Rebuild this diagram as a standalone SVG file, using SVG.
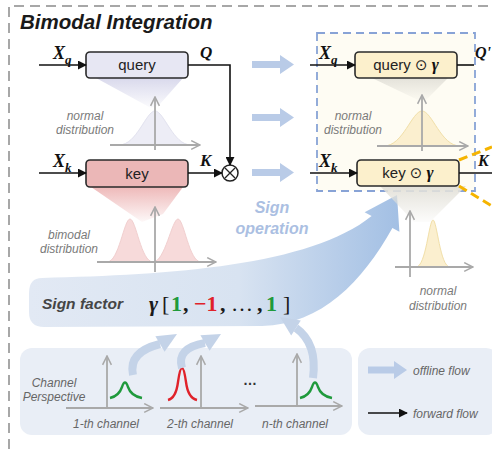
<svg xmlns="http://www.w3.org/2000/svg" width="492" height="449" viewBox="0 0 492 449">
  <defs>
    <style>
      .lbl { font-family: "Liberation Sans", Arial, sans-serif; font-style: italic; fill: #7a7a7a; font-size: 12px; }
      .box-txt { font-family: "Liberation Sans", Arial, sans-serif; font-size: 15px; fill: #222; text-anchor: middle; }
      .math { font-family: "Liberation Serif", "Times New Roman", serif; font-weight: bold; font-style: italic; fill: #111; }
      .sym { font-family: "DejaVu Sans", sans-serif; font-style: normal; font-weight: normal; }
      .fwd { stroke: #111; stroke-width: 1.6; fill: none; }
      .axis { stroke: #a9a9a9; stroke-width: 1.8; fill: none; marker-end: url(#open); }
      .offline { fill: #b9cbe7; }
      .panel { fill: #e9eef6; }
      .chan { font-family: "Liberation Sans", Arial, sans-serif; font-style: italic; fill: #666; font-size: 12px; }
    </style>
    <marker id="tri" viewBox="0 0 10 10" refX="9" refY="5" markerWidth="9" markerHeight="9" markerUnits="userSpaceOnUse" orient="auto">
      <path d="M0,0 L10,5 L0,10 z" fill="#111"/>
    </marker>
    <marker id="open" viewBox="0 0 10 10" refX="9" refY="5" markerWidth="11" markerHeight="11" markerUnits="userSpaceOnUse" orient="auto">
      <path d="M1,1 L9,5 L1,9" fill="none" stroke="#a9a9a9" stroke-width="1.4"/>
    </marker>
    <linearGradient id="coneQ" x1="0" y1="0" x2="0" y2="1">
      <stop offset="0" stop-color="#d9d9ec"/>
      <stop offset="1" stop-color="#d9d9ec" stop-opacity="0.1"/>
    </linearGradient>
    <linearGradient id="coneK" x1="0" y1="0" x2="0" y2="1">
      <stop offset="0" stop-color="#eeb9b9"/>
      <stop offset="1" stop-color="#eeb9b9" stop-opacity="0.1"/>
    </linearGradient>
    <linearGradient id="coneY" x1="0" y1="0" x2="0" y2="1">
      <stop offset="0" stop-color="#e4e2da"/>
      <stop offset="1" stop-color="#e4e2da" stop-opacity="0.1"/>
    </linearGradient>
    <linearGradient id="swoosh" x1="30" y1="0" x2="410" y2="0" gradientUnits="userSpaceOnUse">
      <stop offset="0" stop-color="#e2e9f4"/>
      <stop offset="0.55" stop-color="#d8e3f1"/>
      <stop offset="1" stop-color="#9fbde3"/>
    </linearGradient>
  </defs>

  <!-- outer dashed frame -->
  <path d="M9,449 L9,6 L492,6" fill="none" stroke="#8a8a8a" stroke-width="1.5" stroke-dasharray="10 6"/>

  <text x="20" y="29" font-family="Liberation Sans, Arial, sans-serif" font-weight="bold" font-style="italic" font-size="20.5" fill="#1a1a1a">Bimodal Integration</text>

  <!-- sign factor swoosh -->
  <g id="sign-swoosh">
    <path d="M42,278 C170,275 310,266 371.6,216.1 L364.6,212.2 L397,195 L399.4,231.8 L392.4,227.9 C362,282 322,324 262,326 L44,327 Q29,327 29,312 L29,293 Q29,278 42,278 Z" fill="url(#swoosh)"/>
  </g>

  <!-- right group (sign-operated projections) -->
  <g id="signed-group">
    <rect x="317" y="33" width="158" height="158" fill="#fefcf3" stroke="#88a3d6" stroke-width="1.8" stroke-dasharray="8 5"/>
  </g>

  <!-- distributions -->
  <g id="dist-query">
    <polygon points="96,78 183,78 160,104 151,108" fill="url(#coneQ)"/>
    <path d="M119,145 C137,145 146,111 155,111 C164,111 173,145 191,145 Z" fill="#ededf6" stroke="#e2e2ef"/>
    <line class="axis" x1="110" y1="145" x2="200" y2="145"/>
    <line class="axis" x1="155" y1="150" x2="155" y2="97"/>
    <text class="lbl" x="85" y="120" text-anchor="middle">normal</text>
    <text class="lbl" x="85" y="134" text-anchor="middle">distribution</text>
  </g>

  <g id="dist-key">
    <polygon points="91,187 183,187 163,214 142,222" fill="url(#coneK)"/>
    <path d="M107,262 C119,262 124,219 130,219 C136,219 141,262 153,262 C165,262 172,219 178,219 C184,219 189,262 201,262 Z" fill="#f7dada" stroke="#f1cfcf"/>
    <line class="axis" x1="97" y1="262" x2="216" y2="262"/>
    <line class="axis" x1="155" y1="272" x2="155" y2="207"/>
    <text class="lbl" x="69" y="239" text-anchor="middle">bimodal</text>
    <text class="lbl" x="69" y="253" text-anchor="middle">distribution</text>
  </g>

  <g id="dist-query-signed">
    <polygon points="372,78 448,78 426,100 418,100" fill="url(#coneY)"/>
    <path d="M384,146 C403,146 412,111 422,111 C432,111 441,146 460,146 Z" fill="#fbefcf" stroke="#f1dfa8"/>
    <line class="axis" x1="377" y1="146" x2="468" y2="146"/>
    <line class="axis" x1="422" y1="151" x2="422" y2="95"/>
    <text class="lbl" x="353" y="120" text-anchor="middle">normal</text>
    <text class="lbl" x="353" y="134" text-anchor="middle">distribution</text>
  </g>

  <g id="dist-key-signed">
    <polygon points="380,186 466,186 430,222 414,222" fill="url(#coneY)"/>
    <path d="M416,267 C426,267 429,220 433,220 C437,220 440,267 450,267 Z" fill="#fbefcf" stroke="#f1dfa8"/>
    <line class="axis" x1="395" y1="267" x2="473" y2="267"/>
    <line class="axis" x1="410" y1="277" x2="410" y2="211"/>
    <text class="lbl" x="438" y="295" text-anchor="middle">normal</text>
    <text class="lbl" x="438" y="310" text-anchor="middle">distribution</text>
  </g>

  <!-- offline flow arrows between the two stages -->
  <g id="offline-arrows">
    <path class="offline" d="M252,61 L280,61 L280,55 L294,64.5 L280,74 L280,68 L252,68 Z"/>
    <path class="offline" d="M252,114 L280,114 L280,108 L294,117.5 L280,127 L280,121 L252,121 Z"/>
    <path class="offline" d="M252,169 L280,169 L280,163 L294,172.5 L280,182 L280,176 L252,176 Z"/>
  </g>

  <text x="272" y="213" text-anchor="middle" font-family="Liberation Sans, Arial, sans-serif" font-weight="bold" font-style="italic" font-size="16" fill="#abbfe2">Sign</text>
  <text x="272" y="234" text-anchor="middle" font-family="Liberation Sans, Arial, sans-serif" font-weight="bold" font-style="italic" font-size="16" fill="#abbfe2">operation</text>

  <!-- nodes -->
  <g id="node-query">
    <rect x="86" y="52" width="102" height="26" rx="4" fill="#e7e7f3" stroke="#2a2a2a" stroke-width="1.6"/>
    <text class="box-txt" x="137" y="70">query</text>
  </g>
  <g id="node-key">
    <rect x="86" y="160" width="102" height="27" rx="4" fill="#ebb7b7" stroke="#2a2a2a" stroke-width="1.6"/>
    <text class="box-txt" x="137" y="179">key</text>
  </g>
  <g id="node-mul">
    <circle cx="230" cy="173" r="8" fill="#fff" stroke="#222" stroke-width="1.5"/>
    <path d="M225,168 L235,178 M235,168 L225,178" stroke="#222" stroke-width="1.3"/>
  </g>
  <g id="node-query-signed">
    <rect x="355" y="52" width="102" height="26" rx="4" fill="#fcf0cc" stroke="#2a2a2a" stroke-width="1.6"/>
    <text class="box-txt" x="406" y="70">query <tspan class="sym">⊙</tspan> <tspan class="math" font-size="17">γ</tspan></text>
  </g>
  <g id="node-key-signed">
    <rect x="357" y="160" width="102" height="26" rx="4" fill="#fcf0cc" stroke="#2a2a2a" stroke-width="1.6"/>
    <text class="box-txt" x="408" y="178">key <tspan class="sym">⊙</tspan> <tspan class="math" font-size="17">γ</tspan></text>
  </g>

  <!-- forward connectors -->
  <g id="connectors">
    <line class="fwd" x1="39" y1="65" x2="86" y2="65" marker-end="url(#tri)"/>
    <line class="fwd" x1="39" y1="173" x2="86" y2="173" marker-end="url(#tri)"/>
    <path class="fwd" d="M188,65 L230,65 L230,165" marker-end="url(#tri)"/>
    <line class="fwd" x1="188" y1="173" x2="222" y2="173" marker-end="url(#tri)"/>
    <line class="fwd" x1="310" y1="65" x2="355" y2="65" marker-end="url(#tri)"/>
    <line class="fwd" x1="310" y1="173" x2="357" y2="173" marker-end="url(#tri)"/>
    <line class="fwd" x1="457" y1="65" x2="474" y2="65"/>
    <line class="fwd" x1="459" y1="173" x2="492" y2="173"/>
    <path d="M459,160 L492,147 M459,186 L492,206" stroke="#f5b400" stroke-width="3" stroke-dasharray="9 5" fill="none"/>
  </g>

  <!-- connector labels -->
  <g id="labels">
    <text class="math" x="53" y="59" font-size="18">X<tspan font-size="13" dy="5">q</tspan></text>
    <text class="math" x="53" y="167" font-size="18">X<tspan font-size="13" dy="5">k</tspan></text>
    <text class="math" x="200" y="58" font-size="17">Q</text>
    <text class="math" x="200" y="166" font-size="17">K</text>
    <text class="math" x="319" y="59" font-size="18">X<tspan font-size="13" dy="5">q</tspan></text>
    <text class="math" x="319" y="167" font-size="18">X<tspan font-size="13" dy="5">k</tspan></text>
    <text class="math" x="475" y="58" font-size="16">Q'</text>
    <text class="math" x="478" y="166" font-size="16">K</text>
  </g>

  <!-- sign factor -->
  <g id="sign-factor">
    <text x="42" y="309" font-family="Liberation Sans, Arial, sans-serif" font-weight="bold" font-style="italic" font-size="15.5" fill="#454545">Sign factor</text>
    <text y="311" font-family="Liberation Serif, Times New Roman, serif" font-weight="bold" font-size="22" fill="#1a1a1a"><tspan x="149" font-style="italic">γ</tspan><tspan x="162" font-weight="normal">[</tspan><tspan x="171" fill="#1f9a3c">1</tspan><tspan x="183">,</tspan><tspan x="194" fill="#e0222a">−1</tspan><tspan x="220">,</tspan><tspan x="231" font-weight="normal">…</tspan><tspan x="257">,</tspan><tspan x="266" fill="#1f9a3c">1</tspan><tspan x="283" font-weight="normal">]</tspan></text>
  </g>

  <!-- channel perspective panel -->
  <g id="channel-panel">
    <rect class="panel" x="20" y="348" width="332" height="87" rx="12"/>
    <text class="chan" x="54" y="387" text-anchor="middle">Channel</text>
    <text class="chan" x="54" y="401" text-anchor="middle">Perspective</text>

    <line class="axis" x1="66" y1="408" x2="153" y2="408"/>
    <line class="axis" x1="107" y1="408" x2="107" y2="356"/>
    <path d="M110,398 Q119,396 122,387 Q125,378 128,387 Q131,396 142,398" fill="none" stroke="#1f9a3c" stroke-width="2.4"/>
    <text class="chan" x="106" y="428" text-anchor="middle">1-th channel</text>

    <line class="axis" x1="160" y1="408" x2="248" y2="408"/>
    <line class="axis" x1="201" y1="408" x2="201" y2="356"/>
    <path d="M168,400 Q176,398 178,382 Q180,368 182,368 Q184,368 186,382 Q188,398 197,400" fill="none" stroke="#e0222a" stroke-width="2.4"/>
    <text class="chan" x="200" y="428" text-anchor="middle">2-th channel</text>

    <text x="250" y="385" text-anchor="middle" font-family="Liberation Sans, Arial, sans-serif" font-weight="bold" font-size="14" fill="#333">…</text>

    <line class="axis" x1="255" y1="406" x2="342" y2="406"/>
    <line class="axis" x1="297" y1="406" x2="297" y2="354"/>
    <path d="M300,398 Q309,396 312,387 Q315,378 318,387 Q321,396 332,398" fill="none" stroke="#1f9a3c" stroke-width="2.4"/>
    <text class="chan" x="295" y="428" text-anchor="middle">n-th channel</text>
  </g>

  <!-- channel to sign-factor arrows -->
  <g id="factor-arrows" fill="#c4d3e8">
    <path d="M133,375 Q128,352 160,344" fill="none" stroke="#c4d3e8" stroke-width="8"/>
    <polygon points="164.6,351.7 155.4,336.3 177,334"/>
    <path d="M182,368 Q176,348 205,343" fill="none" stroke="#c4d3e8" stroke-width="8"/>
    <polygon points="209.6,350.7 200.4,335.3 221,334"/>
    <path d="M313,378 C316,355 310,338 296,328" fill="none" stroke="#c4d3e8" stroke-width="8"/>
    <polygon points="300.8,320.4 291.2,335.6 280,317"/>
  </g>

  <!-- legend -->
  <g id="legend">
    <rect class="panel" x="358" y="348" width="140" height="87" rx="12"/>
    <path class="offline" d="M368,366.5 L394,366.5 L394,361 L407,370 L394,379 L394,373.5 L368,373.5 Z"/>
    <text class="chan" x="413" y="375" font-size="12.5">offline flow</text>
    <line class="fwd" x1="368" y1="413" x2="407" y2="413" marker-end="url(#tri)"/>
    <text class="chan" x="413" y="418" font-size="12.5">forward flow</text>
  </g>
</svg>
